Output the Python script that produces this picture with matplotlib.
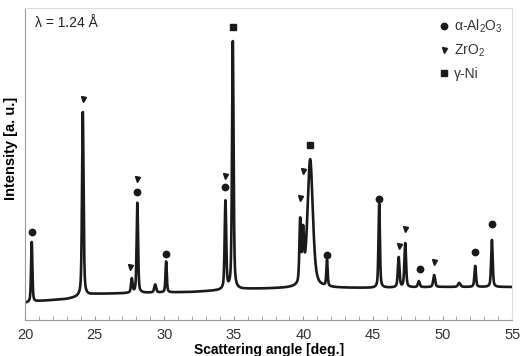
import numpy as np
import matplotlib
matplotlib.use('Agg')
import matplotlib.pyplot as plt

plt.rcParams['font.family'] = ['Liberation Sans', 'DejaVu Sans']
plt.rcParams['mathtext.fontset'] = 'custom'
plt.rcParams['mathtext.rm'] = 'Liberation Sans'

# reflections: angle [deg], height above background, FWHM [deg]
peak_pos = [20.48, 24.15, 27.67, 28.07, 29.35, 30.14, 34.40, 34.93, 39.77, 39.98,
            40.49, 41.70, 45.45, 46.85, 47.32, 48.30, 49.40, 51.20, 52.35, 53.55]
peak_h = [60, 184, 14, 90, 8, 31, 88, 248, 62, 48,
          128, 26, 84, 30, 44, 6, 12, 4, 21, 47]
peak_w = [0.11, 0.13, 0.13, 0.12, 0.16, 0.11, 0.13, 0.13, 0.13, 0.15,
          0.45, 0.11, 0.12, 0.14, 0.14, 0.16, 0.16, 0.20, 0.13, 0.13]

# background level
bg_x = [20.0, 21.0, 23.0, 25.0, 28.0, 32.0, 36.0, 40.0, 45.0, 50.0, 55.0]
bg_y = [17, 19, 21, 26, 27, 28, 31, 32, 32, 33, 33]

# phase markers: angle, height
al2o3_x = [20.48, 28.07, 30.14, 34.38, 41.70, 45.45, 48.35, 52.35, 53.55]
al2o3_y = [88, 128, 66, 133, 65, 121, 51, 68, 96]
zro2_x = [24.15, 27.55, 28.07, 34.38, 39.77, 39.98, 46.84, 47.32, 49.40]
zro2_y = [221, 53, 141, 144, 122, 149, 74, 91, 58]
ni_x = [34.93, 40.49]
ni_y = [293, 175]

tt = np.linspace(20, 55, 7000)
inten = np.interp(tt, bg_x, bg_y).astype(float)
for p, h, w in zip(peak_pos, peak_h, peak_w):
    hw = w / 2
    lor = hw ** 2 / ((tt - p) ** 2 + hw ** 2)
    gau = np.exp(-np.log(2) * ((tt - p) / hw) ** 2)
    inten += h * (0.5 * lor + 0.5 * gau)

fig = plt.figure(figsize=(5.22, 3.56), dpi=100)
ax = fig.add_axes([0.048, 0.101, 0.933, 0.877])

ax.plot(tt, inten, color='#1a1a1a', lw=1.9)
ax.plot(al2o3_x, al2o3_y, 'o', color='#1a1a1a', ms=4.6, ls='none', label=r'α-Al$_2$O$_3$')
ax.plot(zro2_x, zro2_y, 'v', color='#1a1a1a', ms=3.6, ls='none', label=r'ZrO$_2$')
ax.plot(ni_x, ni_y, 's', color='#1a1a1a', ms=4.2, ls='none', label='γ-Ni')

ax.set_xlim(20, 55)
ax.set_ylim(0, 312)
ax.set_yticks([])
ax.set_xticks(range(20, 56, 5))
ax.set_xticks(range(20, 56), minor=True)
ax.tick_params(axis='x', which='both', direction='in', length=3, color='#999999',
               labelsize=10.5, labelcolor='#333333', pad=6)
for s in ['left', 'bottom']:
    ax.spines[s].set_color('#999999')
for s in ['top', 'right']:
    ax.spines[s].set_color('#dddddd')

ax.set_xlabel('Scattering angle [deg.]', fontsize=10, fontweight='bold')
ax.xaxis.set_label_coords(0.5, -0.072)
ax.set_ylabel('Intensity [a. u.]', fontsize=10.5, fontweight='bold')
ax.yaxis.set_label_coords(-0.014, 0.55)
ax.text(0.02, 0.975, 'λ = 1.24 Å', transform=ax.transAxes, fontsize=10,
        va='top', ha='left', color='#222222')

ax.legend(loc='upper right', frameon=False, fontsize=10, handletextpad=0.2,
          handlelength=1.0, labelspacing=0.55, borderaxespad=0.3, labelcolor='#333333')

fig.savefig('out.png', dpi=100)
